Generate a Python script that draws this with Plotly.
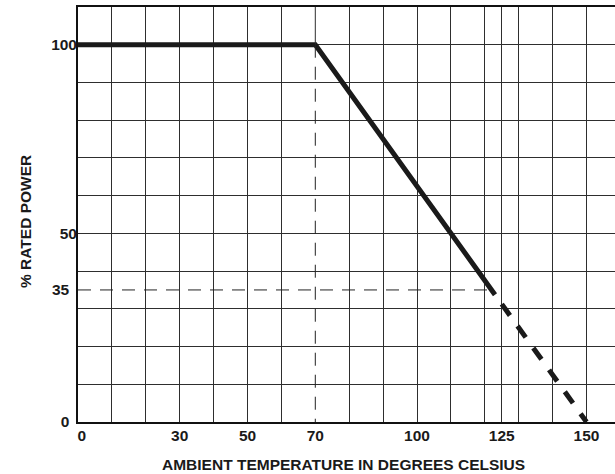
import plotly.graph_objects as go

# Derating curve (ambient temperature in °C, % rated power)
curve_t = [0, 70, 123]
curve_p = [100, 100, 33.75]
ext_t = [125, 150]
ext_p = [31.25, 0]

# Reference guide lines
knee_t = [70, 70]
knee_p = [100, 0]
knee_top_p = [110, 100]
ref35_t = [0, 122]
ref35_p = [35, 35]

# Grid / tick definitions
x_grid = [0, 10, 20, 30, 40, 50, 60, 80, 90, 100, 110, 120, 125, 130, 140, 150]
x_labels = ["\u20020", "", "", "30", "", "50", "", "", "", "100", "", "", "125", "", "", "150"]
x_knee_tick = [70]
x_knee_label = ["70"]
y_grid = [0, 10, 20, 30, 40, 50, 60, 70, 80, 90, 100, 110]
y_tickvals = [0, 35, 50, 100]
y_ticktext = ["0\u2002", "35\u2002", "50", "100"]

FONT = "Liberation Sans, Arial, sans-serif"
GRID = "#2e2e2e"
fig = go.Figure()

fig.add_trace(go.Scatter(x=knee_t, y=knee_top_p, mode="lines", xaxis="x2",
                         line=dict(color=GRID, width=1),
                         hoverinfo="skip", showlegend=False))
fig.add_trace(go.Scatter(x=knee_t, y=knee_p, mode="lines", xaxis="x2",
                         line=dict(color="#222222", width=1, dash="13px,9px"),
                         hoverinfo="skip", showlegend=False))
fig.add_trace(go.Scatter(x=ref35_t, y=ref35_p, mode="lines", yaxis="y2",
                         line=dict(color="#222222", width=1, dash="13px,9px"),
                         hoverinfo="skip", showlegend=False))
fig.add_trace(go.Scatter(x=curve_t, y=curve_p, mode="lines",
                         line=dict(color="#1a1a1a", width=5),
                         showlegend=False))
fig.add_trace(go.Scatter(x=ext_t, y=ext_p, mode="lines",
                         line=dict(color="#1a1a1a", width=5, dash="14px,13px"),
                         showlegend=False))

tickfont = dict(family=FONT, size=15.5, weight="bold", color="#1a1a1a")
fig.update_layout(
    width=615, height=474,
    margin=dict(l=78, r=0, t=7, b=52),
    paper_bgcolor="white", plot_bgcolor="white",
    font=dict(family=FONT, size=15.5, color="#1a1a1a"),
    xaxis=dict(range=[0, 158.4], tickvals=x_grid, ticktext=x_labels,
               showgrid=True, gridcolor=GRID, gridwidth=1,
               showline=True, linecolor="#111111", linewidth=2, mirror=True,
               zeroline=False, ticks="", tickfont=tickfont, ticklabelstandoff=-2),
    xaxis2=dict(range=[0, 158.4], overlaying="x", side="bottom", anchor="y",
                tickvals=x_knee_tick, ticktext=x_knee_label,
                showgrid=False, showline=True, linecolor="#111111", linewidth=2,
                zeroline=False, ticks="", tickfont=tickfont, ticklabelstandoff=-2),
    yaxis=dict(range=[0, 110], tickvals=y_grid, showticklabels=False,
               showgrid=True, gridcolor=GRID, gridwidth=1,
               showline=True, linecolor="#111111", linewidth=2,
               zeroline=False, ticks=""),
    yaxis2=dict(range=[0, 110], overlaying="y", side="left",
                tickvals=y_tickvals, ticktext=y_ticktext,
                showgrid=False, showline=False, zeroline=False, ticks="",
                tickfont=tickfont),
    annotations=[
        dict(text="<b>AMBIENT TEMPERATURE IN DEGREES CELSIUS</b>", xref="paper", yref="paper",
             x=0.494, y=-0.102, xanchor="center", yanchor="middle", showarrow=False,
             font=dict(family=FONT, size=15.5, color="#1a1a1a")),
        dict(text="<b>% RATED POWER</b>", xref="paper", yref="paper",
             x=-0.0968, y=0.482, xanchor="center", yanchor="middle", showarrow=False,
             textangle=-90, font=dict(family=FONT, size=15.5, color="#1a1a1a")),
    ],
)

fig.write_html("out.html", config={"displayModeBar": False},
               post_script="document.body.style.margin='0';document.body.style.overflow='hidden';")
